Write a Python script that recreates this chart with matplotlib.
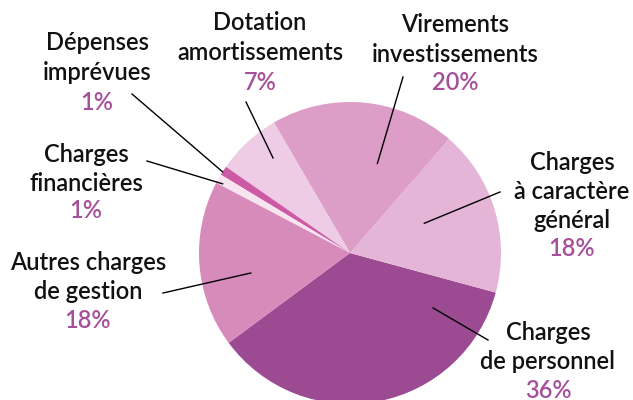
import numpy as np
import matplotlib.pyplot as plt

# slices, counter-clockwise starting from "Charges de personnel"
labels = ["Charges\nde personnel", "Charges\nà caractère\ngénéral", "Virements\ninvestissements",
          "Dotation\namortissements", "Dépenses\nimprévues", "Charges\nfinancières",
          "Autres charges\nde gestion"]
values = [36, 18, 20, 7, 1, 1, 18]
pct_labels = ["36%", "18%", "20%", "7%", "1%", "1%", "18%"]
colors = ["#9c4b93", "#e4b5d6", "#dc9dc6", "#efcce5", "#cc5aa5", "#f8e3f0", "#d78bbb"]

# layout (pixel coords, y from top of image)
W, H = 633, 400
center = (350, 253)
radius = 151
start_angle = -143.5
# label block centre x, y of first line, y of percent
text_pos = [(548, 332, 390), (572, 162, 249), (455, 25, 82), (260, 23, 82),
            (97, 43, 102), (86, 154, 211), (88, 262, 320)]
# leader lines: inner point (angle deg, radius frac) and outer end (pixels)
leader_in = [(-33.5, 0.66), (21.8, 0.53), (73, 0.62), (129, 0.81),
             (147.5, 1.0), (151.5, 0.96), (191.4, 0.67)]
leader_out = [(488, 340), (500, 192), (403, 77), (246, 102),
              (132, 94), (147, 161), (163, 293)]

plt.rcParams['font.family'] = ['Lato', 'DejaVu Sans']

fig = plt.figure(figsize=(W / 100, H / 100), dpi=100)
ax = fig.add_axes([0, 0, 1, 1])

cx, cy = center[0], H - center[1]
ax.pie(values, colors=colors, startangle=start_angle, counterclock=True,
       center=(cx, cy), radius=radius, frame=True,
       wedgeprops=dict(linewidth=0))
ax.set_xlim(0, W)
ax.set_ylim(0, H)
ax.set_aspect("equal")
ax.axis("off")

for i, lab in enumerate(labels):
    x, y1, yp = text_pos[i]
    lines = lab.split("\n")
    for j, line in enumerate(lines):
        ax.text(x, H - (y1 + j * 29.5), line, ha="center", va="center",
                fontsize=17, color="#111111", fontweight="semibold")
    ax.text(x, H - yp, pct_labels[i], ha="center", va="center",
            fontsize=17, color="#a6509c", fontweight="semibold")

    ang, rf = leader_in[i]
    px = cx + radius * rf * np.cos(np.radians(ang))
    py = cy + radius * rf * np.sin(np.radians(ang))
    ox, oy = leader_out[i]
    ax.plot([px, ox], [py, H - oy], color="black", lw=1.0)

fig.savefig("out.png", dpi=100)
